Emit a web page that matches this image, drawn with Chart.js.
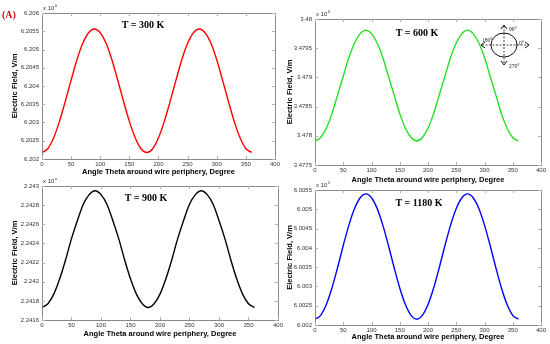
<!DOCTYPE html>
<html>
<head>
<meta charset="utf-8">
<script src="https://cdn.jsdelivr.net/npm/chart.js@4.4.1/dist/chart.umd.min.js"></script>
<style>
  body { margin: 0; background: #fff; }
  #wrap { position: relative; width: 550px; height: 344px; overflow: hidden; }
  canvas { position: absolute; }
</style>
</head>
<body>
<div id="wrap">
  <canvas id="c300"></canvas>
  <canvas id="c600"></canvas>
  <canvas id="c900"></canvas>
  <canvas id="c1180"></canvas>
</div>
<script>
// angle around the wire, degrees
const angles = [0, 10, 20, 30, 40, 50, 60, 70, 80, 90, 100, 110, 120, 130, 140, 150, 160, 170, 180,
                190, 200, 210, 220, 230, 240, 250, 260, 270, 280, 290, 300, 310, 320, 330, 340, 350, 360];

// electric field values (axis units, before the x10^n factor)
const e300 = [6.20218, 6.20228, 6.20258, 6.20303, 6.20358, 6.20416, 6.20472, 6.20517, 6.20546, 6.20556,
              6.20546, 6.20517, 6.20472, 6.20416, 6.20358, 6.20303, 6.20258, 6.20228, 6.20218,
              6.20228, 6.20258, 6.20303, 6.20358, 6.20416, 6.20472, 6.20517, 6.20546, 6.20556,
              6.20546, 6.20517, 6.20472, 6.20416, 6.20358, 6.20303, 6.20258, 6.20228, 6.20218];
const e600 = [3.47791, 3.47797, 3.47813, 3.47838, 3.47870, 3.47902, 3.47934, 3.47959, 3.47975, 3.47981,
              3.47975, 3.47959, 3.47934, 3.47902, 3.47870, 3.47838, 3.47813, 3.47797, 3.47791,
              3.47797, 3.47813, 3.47838, 3.47870, 3.47902, 3.47934, 3.47959, 3.47975, 3.47981,
              3.47975, 3.47959, 3.47934, 3.47902, 3.47870, 3.47838, 3.47813, 3.47797, 3.47791];
const e900 = [2.24173, 2.24177, 2.24187, 2.24203, 2.24223, 2.24245, 2.24264, 2.24281, 2.24291, 2.24295,
              2.24291, 2.24281, 2.24264, 2.24245, 2.24223, 2.24203, 2.24187, 2.24177, 2.24173,
              2.24177, 2.24187, 2.24203, 2.24223, 2.24245, 2.24264, 2.24281, 2.24291, 2.24295,
              2.24291, 2.24281, 2.24264, 2.24245, 2.24223, 2.24203, 2.24187, 2.24177, 2.24173];
const e1180 = [6.00215, 6.00225, 6.00253, 6.00296, 6.00349, 6.00406, 6.00459, 6.00502, 6.00530, 6.00540,
               6.00530, 6.00502, 6.00459, 6.00406, 6.00349, 6.00296, 6.00253, 6.00225, 6.00215,
               6.00225, 6.00253, 6.00296, 6.00349, 6.00406, 6.00459, 6.00502, 6.00530, 6.00540,
               6.00530, 6.00502, 6.00459, 6.00406, 6.00349, 6.00296, 6.00253, 6.00225, 6.00215];

// tick values
const xTicks = [0, 50, 100, 150, 200, 250, 300, 350, 400];
const yTicks300 = [6.202, 6.2025, 6.203, 6.2035, 6.204, 6.2045, 6.205, 6.2055, 6.206];
const yTicks600 = [3.4775, 3.478, 3.4785, 3.479, 3.4795, 3.48];
const yTicks900 = [2.2416, 2.2418, 2.242, 2.2422, 2.2424, 2.2426, 2.2428, 2.243];
const yTicks1180 = [6.002, 6.0025, 6.003, 6.0035, 6.004, 6.0045, 6.005, 6.0055];

const xTitle = 'Angle Theta around wire periphery, Degree';
const yTitle = 'Electric Field, V/m';


// frame box + small inward ticks like matlab, plus the text bits
const framePlugin = {
    id: 'frame',
    afterDraw(chart, args, opts) {
        const ctx = chart.ctx;
        const a = chart.chartArea;
        const xs = chart.scales.x, ys = chart.scales.y;
        ctx.save();
        ctx.strokeStyle = '#8a8a8a';
        ctx.lineWidth = 1;
        ctx.strokeRect(Math.round(a.left) + 0.5, Math.round(a.top) + 0.5,
                       Math.round(a.right - a.left), Math.round(a.bottom - a.top));
        ctx.strokeStyle = '#b0b0b0';
        ctx.beginPath();
        xs.ticks.forEach(t => {
            const px = Math.round(xs.getPixelForValue(t.value)) + 0.5;
            ctx.moveTo(px, a.bottom); ctx.lineTo(px, a.bottom - 3);
            ctx.moveTo(px, a.top); ctx.lineTo(px, a.top + 3);
        });
        ys.ticks.forEach(t => {
            const py = Math.round(ys.getPixelForValue(t.value)) + 0.5;
            ctx.moveTo(a.left, py); ctx.lineTo(a.left + 3, py);
            ctx.moveTo(a.right, py); ctx.lineTo(a.right - 3, py);
        });
        ctx.stroke();

        // x 10^n
        ctx.fillStyle = '#333';
        ctx.font = '6px "Liberation Sans"';
        ctx.textBaseline = 'alphabetic';
        ctx.textAlign = 'left';
        ctx.fillText('x 10', a.left + 1, a.top - 3);
        ctx.font = '4px "Liberation Sans"';
        ctx.fillText(opts.power, a.left + 13, a.top - 6);

        // T = ... label
        ctx.fillStyle = '#000';
        ctx.font = 'bold 10px "Liberation Serif"';
        ctx.textAlign = 'center';
        ctx.textBaseline = 'middle';
        ctx.fillText(opts.label, opts.lx, opts.ly);

        if (opts.panelTag) {
            ctx.fillStyle = '#d01010';
            ctx.font = 'bold 10px "Liberation Serif"';
            ctx.textAlign = 'left';
            ctx.fillText(opts.panelTag, 2, 15);
        }
        if (opts.circle) drawCircle(ctx, opts.circle[0], opts.circle[1]);
        ctx.restore();
    }
};

// little wire cross-section sketch with the angle directions
function drawCircle(ctx, cx, cy) {
    ctx.save();
    ctx.strokeStyle = '#111';
    ctx.lineWidth = 1;
    ctx.beginPath();
    ctx.ellipse(cx, cy, 13, 12, 0, 0, Math.PI * 2);
    ctx.stroke();

    ctx.setLineDash([2, 1.5]);
    ctx.lineWidth = 0.8;
    ctx.beginPath();
    ctx.moveTo(cx - 22, cy); ctx.lineTo(cx + 24, cy);
    ctx.moveTo(cx, cy - 19); ctx.lineTo(cx, cy + 19);
    ctx.stroke();
    ctx.setLineDash([]);

    // arrow heads
    ctx.lineWidth = 1;
    ctx.beginPath();
    ctx.moveTo(cx - 3, cy - 16); ctx.lineTo(cx, cy - 20); ctx.lineTo(cx + 3, cy - 16);
    ctx.moveTo(cx - 3, cy + 16); ctx.lineTo(cx, cy + 20); ctx.lineTo(cx + 3, cy + 16);
    ctx.moveTo(cx + 21, cy - 3); ctx.lineTo(cx + 25, cy); ctx.lineTo(cx + 21, cy + 3);
    ctx.moveTo(cx - 19, cy - 3); ctx.lineTo(cx - 23, cy); ctx.lineTo(cx - 19, cy + 3);
    ctx.stroke();

    ctx.fillStyle = '#222';
    ctx.font = '5.5px "Liberation Serif"';
    ctx.textAlign = 'left';
    ctx.textBaseline = 'middle';
    ctx.fillText('90°', cx + 5, cy - 15);
    ctx.fillText('0°', cx + 15, cy - 1);
    ctx.fillText('180°', cx - 22, cy - 4);
    ctx.fillText('270°', cx + 5, cy + 22);
    ctx.restore();
}


function makeChart(id, box, area, data, yTicks, color, extra) {
    const cv = document.getElementById(id);
    cv.style.left = box.left + 'px';
    cv.style.top = box.top + 'px';
    cv.style.width = box.w + 'px';
    cv.style.height = box.h + 'px';
    cv.width = box.w; cv.height = box.h;

    const padLeft = 10;

    return new Chart(cv, {
        type: 'line',
        data: {
            labels: angles,
            datasets: [{
                data: data.map((v, i) => ({ x: angles[i], y: v })),
                borderColor: color,
                borderWidth: 1.4,
                pointRadius: 0,
                cubicInterpolationMode: 'monotone',
                fill: false
            }]
        },
        options: {
            responsive: false,
            animation: false,
            devicePixelRatio: 1,
            layout: {
                padding: { left: padLeft, top: area.top, right: box.w - area.right, bottom: 0 }
            },
            plugins: {
                legend: { display: false },
                tooltip: { enabled: false },
                frame: extra
            },
            scales: {
                x: {
                    type: 'linear',
                    min: 0, max: 400,
                    afterBuildTicks: s => { s.ticks = xTicks.map(v => ({ value: v })); },
                    afterFit: s => { s.height = box.h - area.bottom; },
                    grid: { display: false, drawTicks: false },
                    border: { display: false },
                    ticks: {
                        padding: 2,
                        color: '#333',
                        font: { family: 'Liberation Sans', size: 6 },
                        maxRotation: 0,
                        callback: v => String(v)
                    },
                    title: {
                        display: true,
                        text: xTitle,
                        color: '#000',
                        padding: 0,
                        font: { family: 'Liberation Sans', size: 7.5, weight: 'bold' }
                    }
                },
                y: {
                    type: 'linear',
                    min: yTicks[0], max: yTicks[yTicks.length - 1],
                    afterBuildTicks: s => { s.ticks = yTicks.map(v => ({ value: v })); },
                    afterFit: s => { s.width = area.left - padLeft; },
                    grid: { display: false, drawTicks: false },
                    border: { display: false },
                    ticks: {
                        padding: 3,
                        color: '#333',
                        font: { family: 'Liberation Sans', size: 6 },
                        callback: v => String(v)
                    },
                    title: {
                        display: true,
                        text: yTitle,
                        color: '#000',
                        padding: 0,
                        font: { family: 'Liberation Sans', size: 7.5, weight: 'bold' }
                    }
                }
            }
        },
        plugins: [framePlugin]
    });
}

makeChart('c300',  { left: 0,   top: 0,   w: 282, h: 176 }, { left: 42, right: 277, top: 13, bottom: 159 },
          e300, yTicks300, '#ff0000', { power: '6', label: 'T = 300 K', lx: 143, ly: 25, panelTag: '(A)' });
makeChart('c600',  { left: 275, top: 0,   w: 275, h: 184 }, { left: 40, right: 266, top: 19, bottom: 165 },
          e600, yTicks600, '#22e022', { power: '6', label: 'T = 600 K', lx: 142, ly: 33, circle: [229, 45] });
makeChart('c900',  { left: 0,   top: 178, w: 285, h: 160 }, { left: 42, right: 280, top: 8, bottom: 142 },
          e900, yTicks900, '#000000', { power: '6', label: 'T = 900 K', lx: 146, ly: 20 });
makeChart('c1180', { left: 275, top: 178, w: 275, h: 163 }, { left: 40, right: 266, top: 12, bottom: 147 },
          e1180, yTicks1180, '#0000ff', { power: '5', label: 'T = 1180 K', lx: 144, ly: 25 });
</script>
</body>
</html>
